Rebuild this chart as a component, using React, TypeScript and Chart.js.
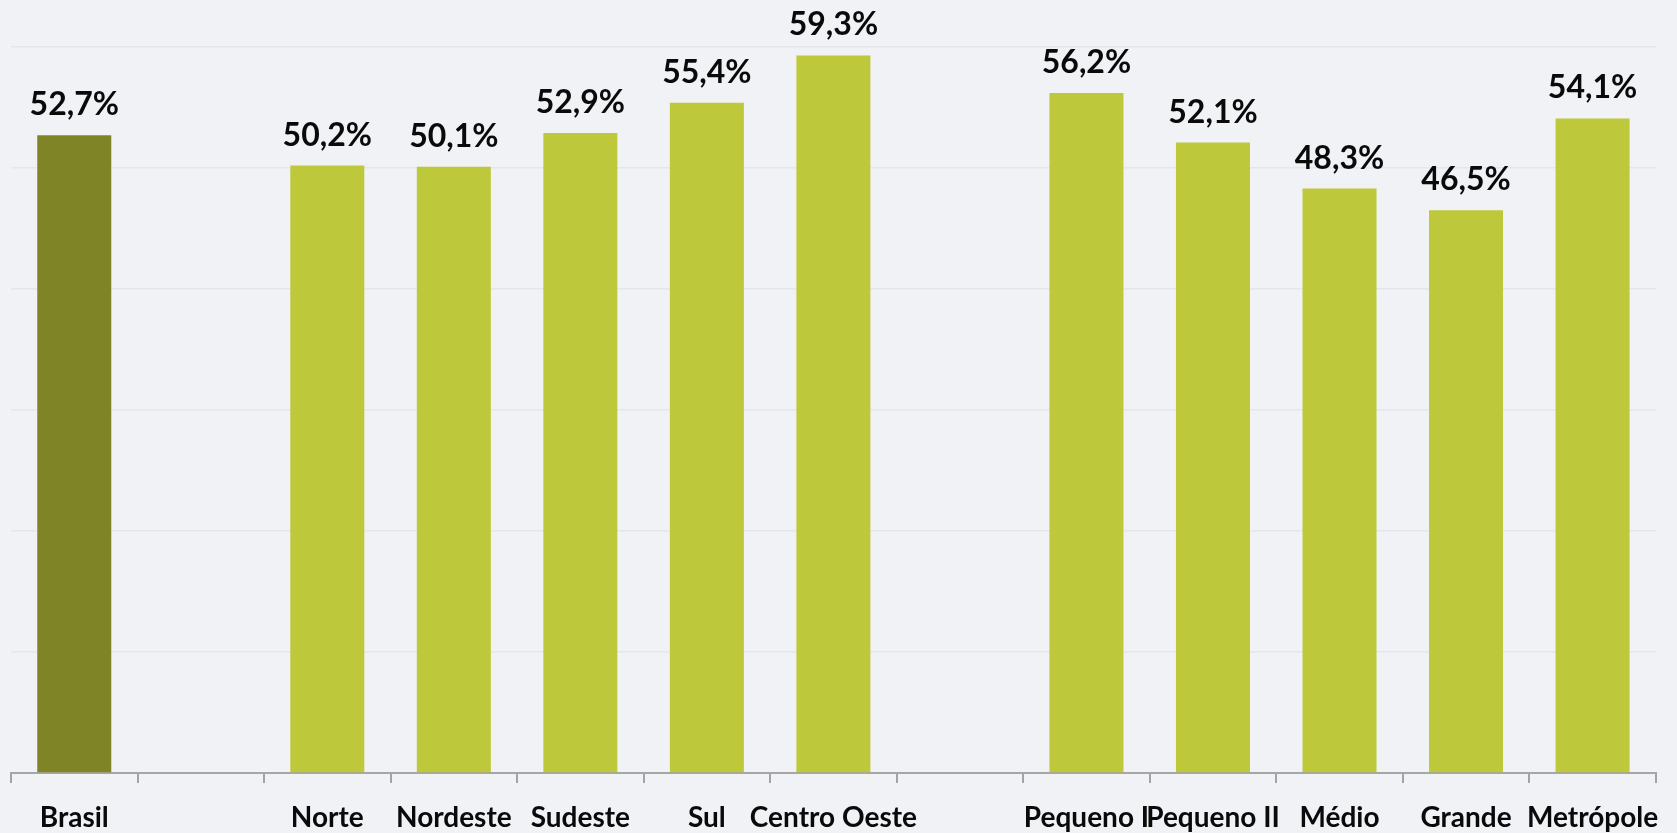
import React, { useEffect, useRef } from "react";
import { Chart, registerables } from "chart.js";

Chart.register(...registerables);

const categories = [
  "Brasil",
  "",
  "Norte",
  "Nordeste",
  "Sudeste",
  "Sul",
  "Centro Oeste",
  "",
  "Pequeno I",
  "Pequeno II",
  "Médio",
  "Grande",
  "Metrópole",
];

const values: (number | null)[] = [
  52.7, null, 50.2, 50.1, 52.9, 55.4, 59.3, null, 56.2, 52.1, 48.3, 46.5, 54.1,
];

const barColors = [
  "#7f8427",
  "#bdc83a",
  "#bdc83a",
  "#bdc83a",
  "#bdc83a",
  "#bdc83a",
  "#bdc83a",
  "#bdc83a",
  "#bdc83a",
  "#bdc83a",
  "#bdc83a",
  "#bdc83a",
  "#bdc83a",
];

const valueLabelPlugin = {
  id: "valueLabels",
  afterDatasetsDraw(chart: any) {
    const ctx = chart.ctx;
    const meta = chart.getDatasetMeta(0);
    ctx.save();
    ctx.font = "bold 32px Lato";
    ctx.fillStyle = "#0a0a0a";
    ctx.textAlign = "center";
    ctx.textBaseline = "alphabetic";
    meta.data.forEach((bar: any, i: number) => {
      const v = values[i];
      if (v == null) return;
      const txt = v.toFixed(1).replace(".", ",") + "%";
      ctx.fillText(txt, bar.x, bar.y - 20);
    });
    ctx.restore();
  },
};

export default function App() {
  const ref = useRef<HTMLCanvasElement | null>(null);

  useEffect(() => {
    document.body.style.margin = "0";
    const canvas = ref.current;
    if (!canvas) return;
    const chart = new Chart(canvas, {
      type: "bar",
      data: {
        labels: categories,
        datasets: [
          {
            data: values,
            backgroundColor: barColors,
            borderWidth: 0,
            categoryPercentage: 1,
            barPercentage: 0.585,
          },
        ],
      },
      options: {
        animation: false,
        responsive: false,
        maintainAspectRatio: false,
        layout: { padding: { left: 11, right: 21, top: 47, bottom: 0 } },
        plugins: {
          legend: { display: false },
          tooltip: { enabled: false },
        },
        scales: {
          x: {
            afterFit: (scale: any) => {
              scale.height = 60;
            },
            grid: {
              offset: true,
              drawOnChartArea: false,
              drawTicks: true,
              tickLength: 10,
              color: "#a3a3a3",
              lineWidth: 2,
            },
            border: { display: true, color: "#a6a6a6", width: 2 },
            ticks: {
              autoSkip: false,
              maxRotation: 0,
              minRotation: 0,
              padding: 18,
              color: "#0a0a0a",
              font: { family: "Lato", size: 28, weight: "bold" },
            },
          },
          y: {
            min: 0,
            max: 60,
            ticks: { display: false, stepSize: 10 },
            border: { display: false },
            grid: { drawTicks: false, color: "#e5e6eb", lineWidth: 1.5 },
          },
        },
      },
      plugins: [valueLabelPlugin],
    });
    return () => chart.destroy();
  }, []);

  return (
    <div style={{ width: 1677, height: 833, background: "#f1f2f6" }}>
      <canvas ref={ref} width={1677} height={833} style={{ display: "block" }} />
    </div>
  );
}
